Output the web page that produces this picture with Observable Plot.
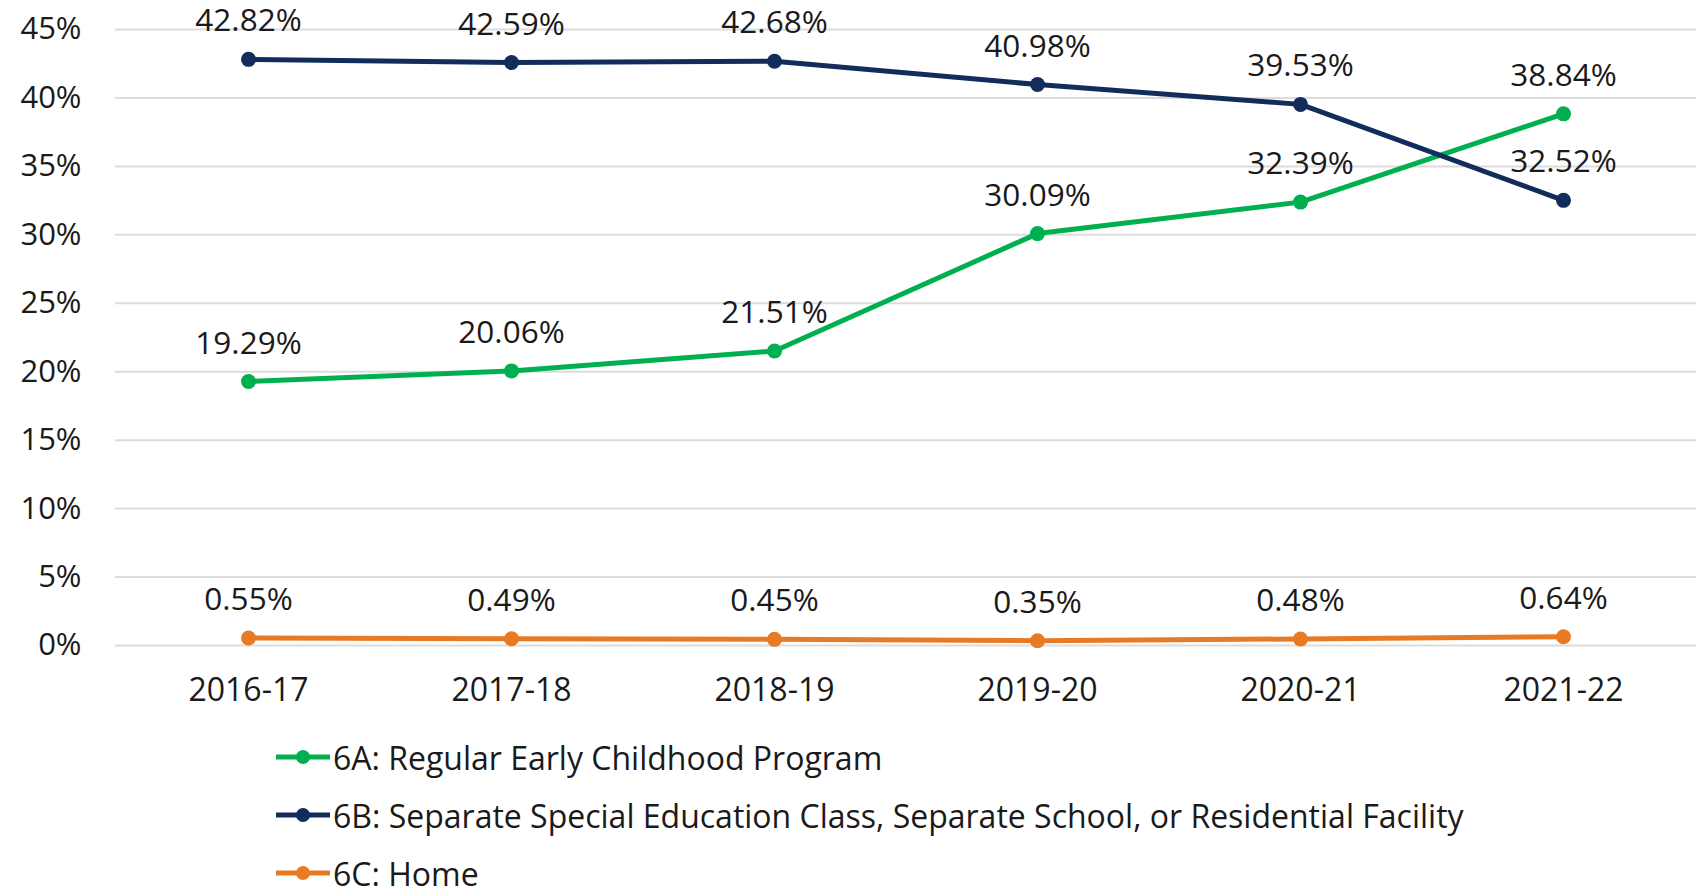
<!DOCTYPE html>
<html>
<head>
<meta charset="utf-8">
<script src="https://cdn.jsdelivr.net/npm/d3@7"></script>
<script src="https://cdn.jsdelivr.net/npm/@observablehq/plot@0.6"></script>
<style>
  html, body { margin: 0; padding: 0; background: #fff; }
  body { width: 1696px; height: 895px; overflow: hidden; font-family: "Open Sans", sans-serif; position: relative; }
  #chart svg { overflow: visible; }
  #legend { position: absolute; left: 276px; top: 728px; }
  .row { height: 58px; display: flex; align-items: center; font-size: 32px; color: #1a1a1a; white-space: nowrap; }
  .row svg { margin-right: 3px; flex: none; }
</style>
</head>
<body>
<div id="chart"></div>
<div id="legend"></div>
<script>
const years = ["2016-17", "2017-18", "2018-19", "2019-20", "2020-21", "2021-22"];
const seriesNames = [
  "6A: Regular Early Childhood Program",
  "6B: Separate Special Education Class, Separate School, or Residential Facility",
  "6C: Home"
];
const seriesColors = ["#00b050", "#122d5c", "#e97a24"];
const valuesA = [19.29, 20.06, 21.51, 30.09, 32.39, 38.84];
const valuesB = [42.82, 42.59, 42.68, 40.98, 39.53, 32.52];
const valuesC = [0.55, 0.49, 0.45, 0.35, 0.48, 0.64];
const yTicks = [0, 5, 10, 15, 20, 25, 30, 35, 40, 45];

const allValues = [valuesA, valuesB, valuesC];
const data = [];
allValues.forEach((vals, i) => {
  vals.forEach((v, j) => data.push({series: seriesNames[i], color: seriesColors[i], year: years[j], value: v}));
});

const chart = Plot.plot({
  width: 1696,
  height: 720,
  marginLeft: 115,
  marginRight: 0,
  marginTop: 29,
  marginBottom: 75,
  style: {fontFamily: "Open Sans, sans-serif", fontSize: "32px", color: "#1a1a1a", background: "#fff"},
  x: {type: "point", domain: years, padding: 0.5, label: null},
  y: {domain: [0, 45], ticks: yTicks, label: null},
  marks: [
    Plot.ruleY(yTicks, {stroke: "#dcdcdc", strokeWidth: 2}),
    Plot.axisY({ticks: yTicks, tickSize: 0, tickPadding: 34, tickFormat: d => d + "%", label: null, fontSize: 31}),
    Plot.axisX({tickSize: 0, tickPadding: 33, label: null, fontSize: 32}),
    ...seriesNames.map((name, i) => Plot.line(data.filter(d => d.series === name), {
      x: "year", y: "value", stroke: seriesColors[i], strokeWidth: 5, curve: "linear"
    })),
    ...seriesNames.map((name, i) => Plot.dot(data.filter(d => d.series === name), {
      x: "year", y: "value", fill: seriesColors[i], r: 7.5, stroke: "none"
    })),
    Plot.text(data, {
      x: "year", y: "value", text: d => d.value.toFixed(2) + "%", dy: -38,
      fill: "#1a1a1a", fontSize: 31.5, textAnchor: "middle", lineAnchor: "middle"
    })
  ]
});
document.getElementById("chart").appendChild(chart);

const legend = document.getElementById("legend");
seriesNames.forEach((name, i) => {
  const row = document.createElement("div");
  row.className = "row";
  row.innerHTML = `<svg width="54" height="20"><line x1="0" y1="10" x2="54" y2="10" stroke="${seriesColors[i]}" stroke-width="5"/><circle cx="27" cy="10" r="7" fill="${seriesColors[i]}"/></svg><span>${name}</span>`;
  legend.appendChild(row);
});
</script>
</body>
</html>
